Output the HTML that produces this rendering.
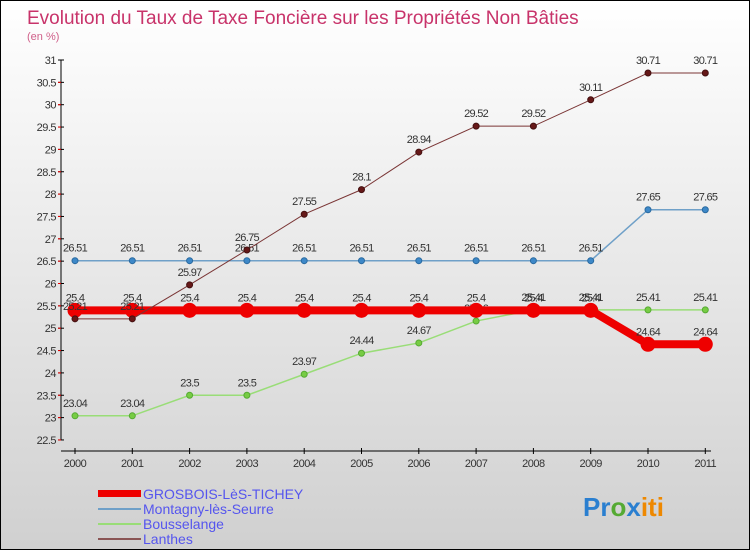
<!DOCTYPE html>
<html><head><meta charset="utf-8"><style>
html,body{margin:0;padding:0}
body{width:750px;height:550px;overflow:hidden;font-family:"Liberation Sans",sans-serif}
#wrap{position:relative;width:748px;height:548px;border:1px solid #000;background:linear-gradient(#ffffff,#d0d0d0)}
svg text{font-family:"Liberation Sans",sans-serif}
</style></head><body>
<div id="wrap">
<svg id="chart" width="748" height="548">
<text x="26" y="23" font-size="19" fill="#c8336a">Evolution du Taux de Taxe Foncière sur les Propriétés Non Bâties</text>
<text x="26" y="39" font-size="11" fill="#d0608a">(en %)</text>
<g id="axes"></g><g id="series"></g>
<g>
<rect x="97" y="489" width="43" height="7" fill="#ee0000"/>
<line x1="97" y1="508" x2="140" y2="508" stroke="#6fa0c8" stroke-width="2"/>
<line x1="97" y1="523" x2="140" y2="523" stroke="#99dd77" stroke-width="2"/>
<line x1="97" y1="538" x2="140" y2="538" stroke="#8a5555" stroke-width="2"/>
<text x="142" y="498" font-size="14" fill="#5555ee">GROSBOIS-LèS-TICHEY</text>
<text x="142" y="513" font-size="14" fill="#5555ee">Montagny-lès-Seurre</text>
<text x="142" y="528" font-size="14" fill="#5555ee">Bousselange</text>
<text x="142" y="543" font-size="14" fill="#5555ee">Lanthes</text>
</g>
<g font-size="26" font-weight="bold">
<text x="582" y="515"><tspan fill="#2a7fd0">Pr</tspan><tspan fill="#55aa33">o</tspan><tspan fill="#2a7fd0">x</tspan><tspan fill="#ee8800">iti</tspan></text>
</g>
</svg></div>
<script>
const years=[2000,2001,2002,2003,2004,2005,2006,2007,2008,2009,2010,2011];
const yTicks=[22.5,23,23.5,24,24.5,25,25.5,26,26.5,27,27.5,28,28.5,29,29.5,30,30.5,31];
const grosbois=[25.4,25.4,25.4,25.4,25.4,25.4,25.4,25.4,25.4,25.4,24.64,24.64];
const montagny=[26.51,26.51,26.51,26.51,26.51,26.51,26.51,26.51,26.51,26.51,27.65,27.65];
const bousselange=[23.04,23.04,23.5,23.5,23.97,24.44,24.67,25.16,25.41,25.41,25.41,25.41];
const lanthes=[25.21,25.21,25.97,26.75,27.55,28.1,28.94,29.52,29.52,30.11,30.71,30.71];
const NS="http://www.w3.org/2000/svg";
const xS=i=>74+i*57.3;
const yS=v=>59+(31-v)*44.7;
function mk(p,t,a){const e=document.createElementNS(NS,t);for(const k in a)e.setAttribute(k,a[k]);p.appendChild(e);return e;}
const ax=document.getElementById('axes'),se=document.getElementById('series');
let l=mk(ax,'line',{x1:60,y1:yS(31),x2:60,y2:yS(22.5),stroke:'#000'});


l=mk(ax,'line',{x1:60,y1:450,x2:710,y2:450,stroke:'#000'});


yTicks.forEach(v=>{const y=yS(v);
 mk(ax,'line',{x1:57,y1:y,x2:63,y2:y,stroke:'#000'});
 mk(ax,'line',{x1:57,y1:y+22.35,x2:60,y2:y+22.35,stroke:v>22.5?'#e00':'none'});
 const t=mk(ax,'text',{x:55,y:y+4,'font-size':11,'text-anchor':'end',fill:'#333','letter-spacing':'-0.5'});t.textContent=v;
 
 });
years.forEach((yr,i)=>{const x=xS(i);
 mk(ax,'line',{x1:x,y1:447,x2:x,y2:453,stroke:'#000'});
 const t=mk(ax,'text',{x:x,y:466,'font-size':11,'text-anchor':'middle',fill:'#333','letter-spacing':'-0.5'});t.textContent=yr;
 
 });
function series(d,name,col,w,r,dot,dotStroke){
 const g=mk(se,'g',{});
 
 
 mk(g,'polyline',{points:d.map((v,i)=>xS(i)+','+yS(v)).join(' '),fill:'none',stroke:col,'stroke-width':w});
 d.forEach((v,i)=>{const c=mk(g,'circle',{cx:xS(i),cy:yS(v),r:r,fill:dot,stroke:dotStroke,'stroke-width':1});
  
  
  const t=mk(g,'text',{x:xS(i),y:yS(v)-9,'font-size':11,'text-anchor':'middle',fill:'#333','letter-spacing':'-0.7'});t.textContent=v;
  
  });
}
series(montagny,'montagny','#6fa0c8',1.5,3,'#3d88c8','#2a6aa0');
series(bousselange,'bousselange','#99dd77',1.5,3,'#77cc44','#55aa33');
series(grosbois,'grosbois','#ee0000',8,7,'#ee0000','#ee0000');
series(lanthes,'lanthes','#7a3535',1,3,'#661818','#441010');
</script>
</body></html>
